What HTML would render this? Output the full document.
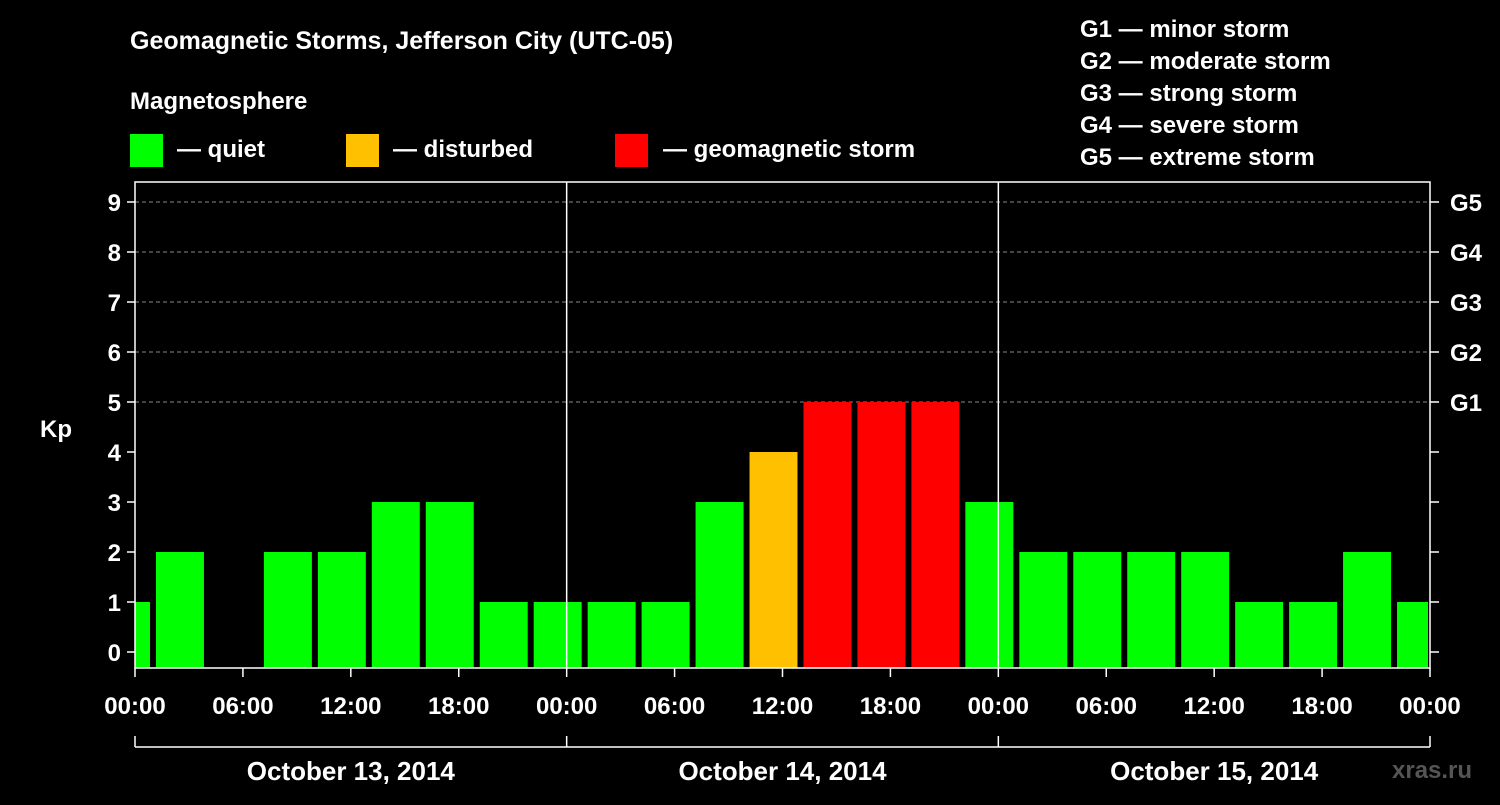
<!DOCTYPE html>
<html><head><meta charset="utf-8"><style>
body{margin:0;background:#000;width:1500px;height:800px;overflow:hidden}
svg{font-family:"Liberation Sans",Arial,sans-serif;font-weight:bold}
</style></head><body>
<svg id="c" width="1500" height="800">
<text x="130" y="49" fill="#fff" font-size="25">Geomagnetic Storms, Jefferson City (UTC-05)</text>
<text x="130" y="109" fill="#fff" font-size="24">Magnetosphere</text>
<g><rect x="130" y="134" width="33" height="33" fill="#00ff00"/><text x="177" y="157" fill="#fff" font-size="24">— quiet</text></g>
<g><rect x="346" y="134" width="33" height="33" fill="#ffc000"/><text x="393" y="157" fill="#fff" font-size="24">— disturbed</text></g>
<g><rect x="615" y="134" width="33" height="33" fill="#ff0000"/><text x="663" y="157" fill="#fff" font-size="24">— geomagnetic storm</text></g>
<g fill="#fff" font-size="24">
<text x="1080" y="37">G1 — minor storm</text><text x="1080" y="69">G2 — moderate storm</text><text x="1080" y="101">G3 — strong storm</text><text x="1080" y="133">G4 — severe storm</text><text x="1080" y="165">G5 — extreme storm</text></g>
<text x="40" y="437" fill="#fff" font-size="24">Kp</text>
<text x="1392" y="778" fill="#555" font-size="24">xras.ru</text>
<g id="plot"></g>
</svg>
<script>
const values=[1,2,0,2,2,3,3,1,1,1,1,3,4,5,5,5,3,2,2,2,2,1,1,2,1];
const yTicks=[0,1,2,3,4,5,6,7,8,9];
const gLabels=["G1","G2","G3","G4","G5"];
const hourLabels=["00:00","06:00","12:00","18:00","00:00","06:00","12:00","18:00","00:00","06:00","12:00","18:00","00:00"];
const dates=["October 13, 2014","October 14, 2014","October 15, 2014"];
const L=135,R=1430,T=182,B=668;
const x=h=>L+h*(R-L)/72;
const y=v=>652-v*50;
const g=document.getElementById('plot');
const NS='http://www.w3.org/2000/svg';
function mk(t,a,p){const e=document.createElementNS(NS,t);for(const k in a)e.setAttribute(k,a[k]);(p||g).appendChild(e);return e;}
yTicks.forEach(v=>{
  if(v>=5){const l=mk('line',{x1:L,x2:R,y1:y(v),y2:y(v),stroke:'#888','stroke-dasharray':'4,3','stroke-width':1});
  
  }
  mk('line',{x1:L-8,x2:L,y1:y(v),y2:y(v),stroke:'#fff','stroke-width':1.5});
  mk('line',{x1:R,x2:R+9,y1:y(v),y2:y(v),stroke:'#fff','stroke-width':1.5});
  const t=mk('text',{x:L-14,y:y(v)+9,fill:'#fff','font-size':24,'text-anchor':'end'});t.textContent=v;
  
  
});
gLabels.forEach((s,i)=>{const t=mk('text',{x:1450,y:y(5+i)+9,fill:'#fff','font-size':24});t.textContent=s;
  
  });
values.forEach((v,i)=>{
  if(v<=0)return;
  let h0=-2+3*i,h1=h0+3;
  let x0=Math.max(x(h0)+3,L),x1=Math.min(x(h1)-3,R-2);
  const c=v>=5?'#ff0000':v>=4?'#ffc000':'#00ff00';
  const r=mk('rect',{x:x0,y:y(v),width:x1-x0,height:B-y(v),fill:c});
  
  
});
[24,48].forEach(h=>mk('line',{x1:x(h),x2:x(h),y1:T,y2:B,stroke:'#fff','stroke-width':1.5}));
mk('rect',{x:L,y:T,width:R-L,height:B-T,fill:'none',stroke:'#fff','stroke-width':1.5});
hourLabels.forEach((s,i)=>{const xx=x(i*6);
  mk('line',{x1:xx,x2:xx,y1:B,y2:B+9,stroke:'#fff','stroke-width':1.5});
  const t=mk('text',{x:xx,y:714,fill:'#fff','font-size':24,'text-anchor':'middle'});t.textContent=s;
  
  });
mk('line',{x1:L,x2:R,y1:747,y2:747,stroke:'#fff','stroke-width':1.5});
[0,24,48,72].forEach(h=>mk('line',{x1:x(h),x2:x(h),y1:736,y2:747,stroke:'#fff','stroke-width':1.5}));
dates.forEach((d,i)=>{const t=mk('text',{x:x(i*24+12),y:780,fill:'#fff','font-size':26,'text-anchor':'middle'});t.textContent=d;
  
  });
</script>
</body></html>
